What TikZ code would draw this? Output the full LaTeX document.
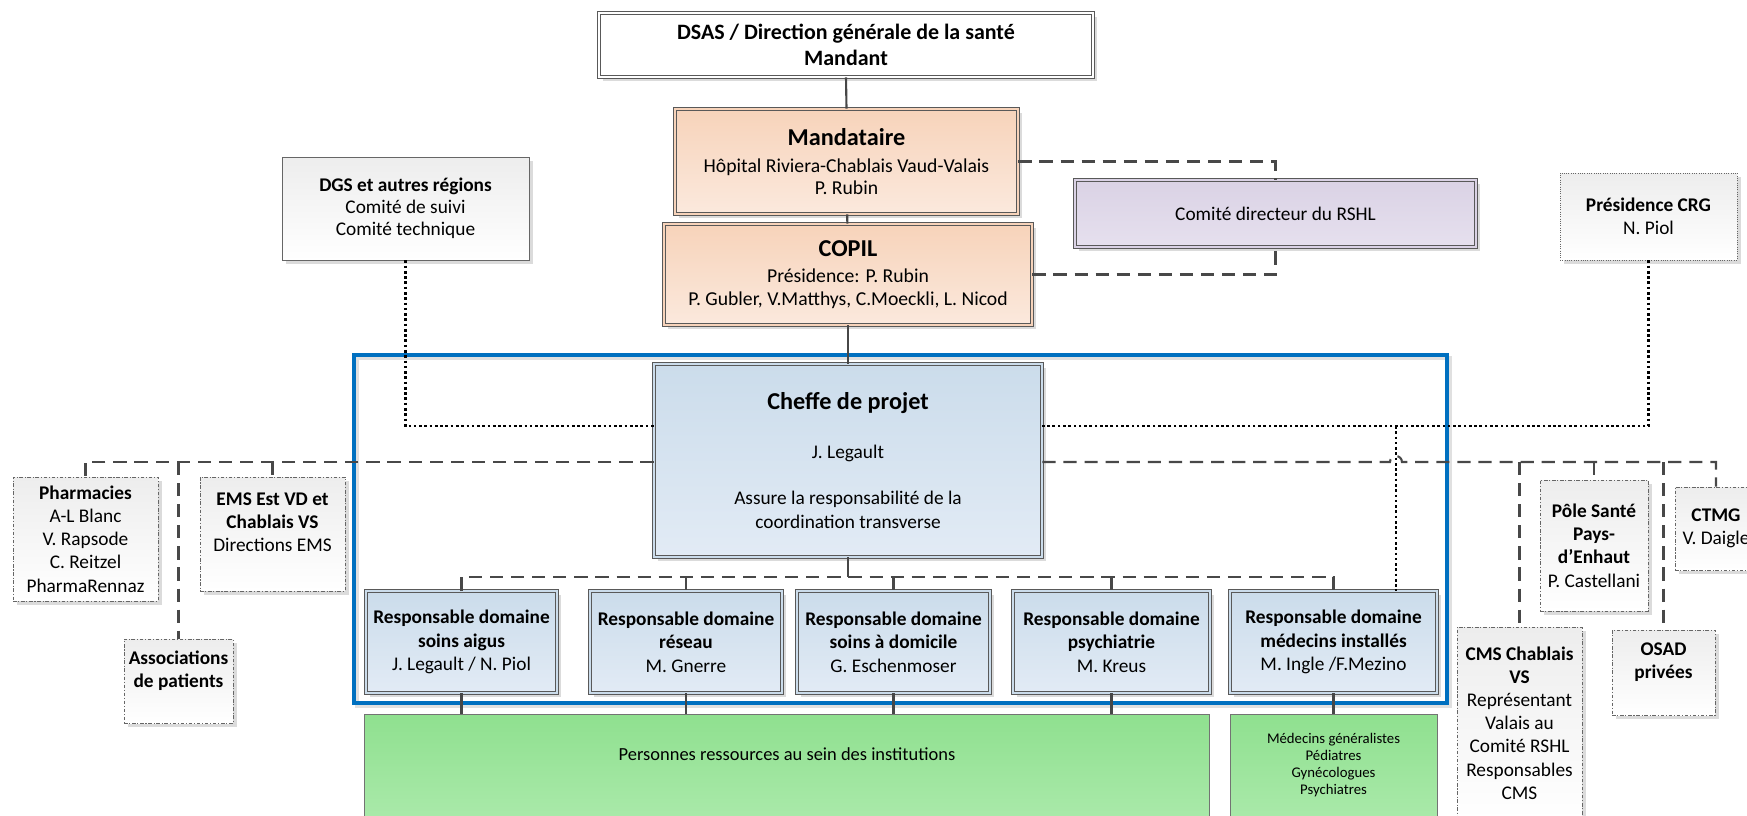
\documentclass[tikz,border=0pt]{standalone}
\usepackage{fontspec}
\setmainfont{Carlito}
\usetikzlibrary{shadows}

\definecolor{peachtop}{HTML}{F7D3BA}
\definecolor{peachbot}{HTML}{FBE9DD}
\definecolor{lilactop}{HTML}{DAD2E5}
\definecolor{lilacbot}{HTML}{E6E0EE}
\definecolor{bluetop}{HTML}{CBDCEB}
\definecolor{bluebot}{HTML}{E2EBF5}
\definecolor{greentop}{HTML}{8FE08F}
\definecolor{greenbot}{HTML}{A9E9A9}
\definecolor{graytop}{HTML}{EDEDED}
\definecolor{teamblue}{HTML}{0070C0}
\definecolor{linkgray}{HTML}{484848}

\newcommand{\orgtitle}[1]{{\fontsize{13.8}{16}\selectfont\bfseries #1}}

\tikzset{
    box/.style={inner sep=0pt, align=center, font=\fontsize{11}{13.2}\selectfont},
    shadowed/.style={drop shadow={shadow xshift=2.2pt, shadow yshift=-2.2pt, fill=black!14, opacity=1}},
    % boxes with the double frame
    framed/.style={box, shadowed, draw=black!65, line width=0.45pt, double distance=1.5pt},
    whitebox/.style={framed, double=white, fill=white, font=\fontsize{12.5}{15}\selectfont\bfseries},
    peachbox/.style={framed, double=peachtop, top color=peachtop, bottom color=peachbot, font=\fontsize{11.2}{12.8}\selectfont},
    lilacbox/.style={framed, double=lilactop, top color=lilactop, bottom color=lilacbot},
    bluebox/.style={framed, double=bluetop, top color=bluetop, bottom color=bluebot},
    greenbox/.style={box, draw=black!55, line width=0.5pt, top color=greentop, bottom color=greenbot, font=\fontsize{10.5}{12.5}\selectfont},
    % partner boxes outside the team
    graybox/.style={box, shadowed, draw=black!60, line width=0.45pt, top color=graytop, bottom color=white},
    partnerbox/.style={graybox, dash pattern=on 2pt off 1pt on 0.6pt off 1pt},
    dottedbox/.style={graybox, dash pattern=on 0.5pt off 0.8pt},
    teamframe/.style={draw=teamblue, line width=2.3pt},
    % connectors
    link/.style={draw=black!72, line width=1.2pt},
    dashlink/.style={draw=linkgray, line width=1.2pt, dash pattern=on 7.5pt off 4.5pt},
    dotlink/.style={draw=black, line width=1.6pt, dash pattern=on 1.5pt off 1.5pt},
}

\begin{document}
\begin{tikzpicture}[x=0.02cm, y=-0.02cm]
    \useasboundingbox (0,0) rectangle (1747,815);

    % frame around the project team
    \draw[black!12, line width=2.2pt] (357,358) rectangle (1450,706);
    \draw[teamframe] (354,355) rectangle (1447,703);

    % top of the hierarchy
    \node[whitebox, minimum width=9.88cm, minimum height=1.28cm] (dsas) at (846,45)
        {DSAS / Direction générale de la santé\\Mandant};
    \node[peachbox, minimum width=6.86cm, minimum height=2.1cm] (mand) at (846.5,161.5)
        {\orgtitle{Mandataire}\\[2.5pt]Hôpital Riviera-Chablais Vaud-Valais\\P. Rubin};
    \node[peachbox, font=\fontsize{11.2}{13}\selectfont, minimum width=7.36cm, minimum height=2.02cm] (copil) at (848,274.5)
        {\orgtitle{COPIL}\\[1.7pt]Présidence: P. Rubin\\P. Gubler, V.Matthys, C.Moeckli, L. Nicod};
    \node[lilacbox, minimum width=8.02cm, minimum height=1.34cm] (comite) at (1275.5,213.5)
        {Comité directeur du RSHL};
    \node[graybox, font=\fontsize{11}{12.5}\selectfont, minimum width=4.94cm, minimum height=2.06cm] (dgs) at (405.5,208.5)
        {\textbf{DGS et autres régions}\\Comité de suivi\\Comité technique};
    \node[dottedbox, minimum width=3.54cm, minimum height=1.74cm] (crg) at (1648.5,216.5)
        {\textbf{Présidence CRG}\\N. Piol};

    % project team
    \node[bluebox, font=\fontsize{11}{13.6}\selectfont, minimum width=7.76cm, minimum height=3.86cm] (cheffe) at (848,460.5)
        {\orgtitle{Cheffe de projet}\\[14.7pt]J. Legault\\[12.5pt]Assure la responsabilité de la\\coordination transverse};
    \node[bluebox, font=\fontsize{11}{13.3}\selectfont, minimum width=3.82cm, minimum height=2.04cm] (r1) at (461.5,642)
        {\textbf{Responsable domaine}\\\textbf{soins aigus}\\J. Legault / N. Piol};
    \node[bluebox, font=\fontsize{11}{13.3}\selectfont, minimum width=3.84cm, minimum height=2.04cm] (r2) at (686,642)
        {\textbf{Responsable domaine}\\\textbf{réseau}\\M. Gnerre};
    \node[bluebox, font=\fontsize{11}{13.3}\selectfont, minimum width=3.86cm, minimum height=2.04cm] (r3) at (893.5,642)
        {\textbf{Responsable domaine}\\\textbf{soins à domicile}\\G. Eschenmoser};
    \node[bluebox, font=\fontsize{11}{13.3}\selectfont, minimum width=3.94cm, minimum height=2.04cm] (r4) at (1111.5,642)
        {\textbf{Responsable domaine}\\\textbf{psychiatrie}\\M. Kreus};
    \node[bluebox, font=\fontsize{11}{13.3}\selectfont, minimum width=4.14cm, minimum height=2.04cm] (r5) at (1333.5,642)
        {\textbf{Responsable domaine}\\\textbf{médecins installés}\\M. Ingle /F.Mezino};

    % resource people
    \node[greenbox, minimum width=16.92cm, minimum height=2.04cm] (g1) at (787,765)
        {Personnes ressources au sein des institutions\\~};
    \node[greenbox, font=\fontsize{8.4}{9.7}\selectfont, minimum width=4.14cm, minimum height=2.04cm] (g2) at (1333.5,765)
        {Médecins généralistes\\Pédiatres\\Gynécologues\\Psychiatres};

    % partners, left side
    \node[partnerbox, minimum width=2.9cm, minimum height=2.48cm] (pharma) at (85.5,539)
        {\textbf{Pharmacies}\\A-L Blanc\\V. Rapsode\\C. Reitzel\\PharmaRennaz};
    \node[partnerbox, minimum width=2.9cm, minimum height=2.28cm] (ems) at (272.5,534)
        {\textbf{EMS Est VD et}\\\textbf{Chablais VS}\\Directions EMS\\~};
    \node[partnerbox, minimum width=2.18cm, minimum height=1.68cm] (assoc) at (178.5,681)
        {\textbf{Associations}\\\textbf{de patients}\\~};

    % partners, right side
    \node[partnerbox, minimum width=2.16cm, minimum height=2.62cm] (pole) at (1594,545.5)
        {\textbf{Pôle Santé}\\\textbf{Pays-}\\\textbf{d’Enhaut}\\P. Castellani};
    \node[partnerbox, minimum width=1.64cm, minimum height=1.66cm] (ctmg) at (1716,528.5)
        {\textbf{CTMG}\\V. Daigle};
    \node[partnerbox, minimum width=2.06cm, minimum height=1.7cm] (osad) at (1663.5,672.5)
        {\textbf{OSAD}\\\textbf{privées}\\~};
    \node[partnerbox, minimum width=2.5cm, minimum height=3.84cm] (cms) at (1519.5,723)
        {\textbf{CMS Chablais}\\\textbf{VS}\\Représentant\\Valais au\\Comité RSHL\\Responsables\\CMS};

    % hierarchy
    \draw[link] (dsas.south) -- (mand.north);
    \draw[link] (mand) -- (copil);
    \draw[link] (copil) -- (cheffe);

    % links to the Comité directeur
    \draw[dashlink] (mand.east) -| (comite.north);
    \draw[dashlink] (copil.east) -| (comite.south);

    % dotted links to the cheffe de projet
    \coordinate (dotrow) at (0,426);
    \coordinate (crgdrop) at (1396,426);
    \draw[dotlink] (dgs.south) |- (cheffe.west |- dotrow);
    \draw[dotlink] (crg.south) |- (cheffe.east |- dotrow);
    \draw[dotlink] (crgdrop) -- (crgdrop |- r5.north);

    % partner bar, with a hop over the dotted line
    \coordinate (bar) at (0,462);
    \coordinate (hopstart) at (1390,462);
    \draw[dashlink] (cheffe.west |- bar) -| (pharma.north);
    \draw[dashlink] (cheffe.east |- bar) -- (hopstart) arc[start angle=180, end angle=0, radius=3.4pt] -| (ctmg.north);
    \foreach \n in {assoc,ems,cms,pole,osad}
        \draw[dashlink] (\n.north |- bar) -- (\n.north);

    % domain bar
    \coordinate (lowbar) at (0,577);
    \draw[link] (cheffe.south) -- (cheffe.south |- lowbar);
    \draw[dashlink] (r1.north) |- (r5.north |- lowbar) -- (r5.north);
    \foreach \n in {r2,r3,r4}
        \draw[dashlink] (\n.north |- lowbar) -- (\n.north);

    % domains to resource people
    \foreach \n in {r1,r2,r3,r4}
        \draw[link] (\n.south) -- (\n.south |- g1.north);
    \draw[link] (r5) -- (g2);
\end{tikzpicture}
\end{document}
